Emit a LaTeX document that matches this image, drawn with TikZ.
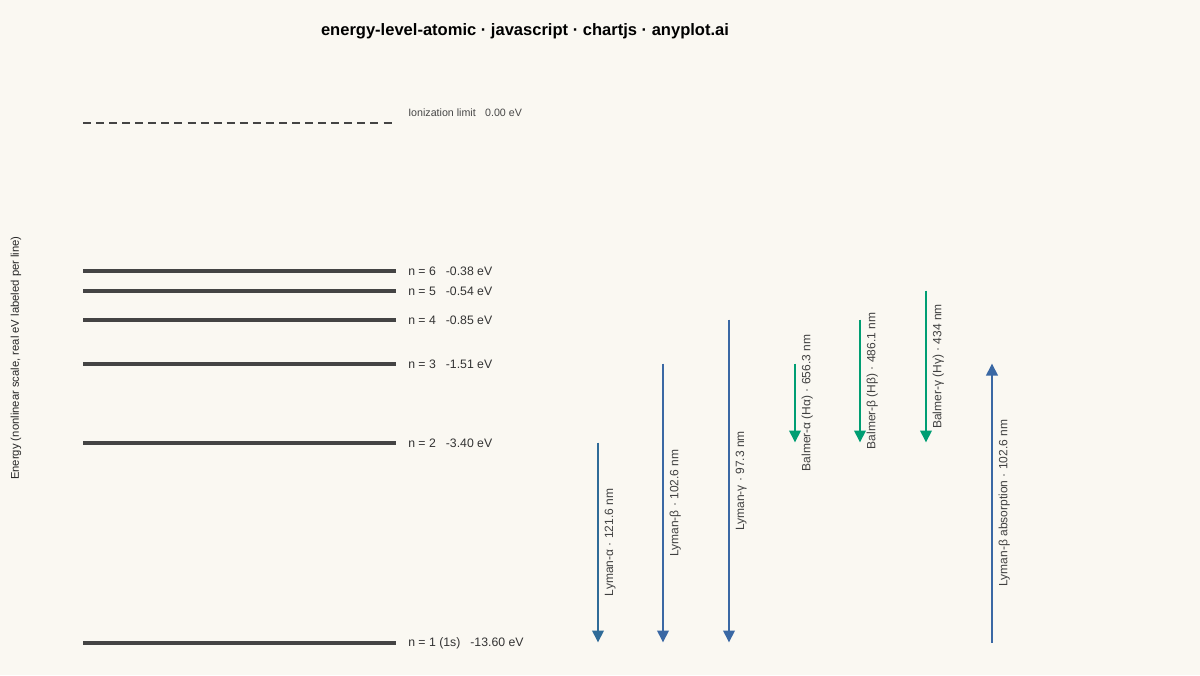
\documentclass[tikz,border=0pt]{standalone}
\usepackage{fontspec}
\setmainfont{Liberation Sans}
\usepackage{tikz}
\usetikzlibrary{arrows.meta}
\definecolor{paper}{HTML}{FAF8F2}
\definecolor{lymanblue}{HTML}{3A68A4}
\definecolor{lymanteal}{HTML}{2F6B98}
\definecolor{balmergreen}{HTML}{009E73}
\definecolor{levelgray}{HTML}{444444}

\begin{document}
\begin{tikzpicture}[x=0.75pt, y=-0.75pt,
  levelline/.style={draw=levelgray, line width=3pt},
  levellab/.style={anchor=west, inner sep=0pt, text=black!80, yshift=-0.8pt,
    font=\fontsize{9.2}{11}\selectfont},
  trans/.style={line width=2pt, -{Triangle[width=8.5pt,length=9pt]}},
  translab/.style={rotate=90, anchor=north, inner sep=4pt, text=black!75,
    font=\fontsize{9}{11}\selectfont}
  ]
  \fill[paper] (0,0) rectangle (1200,675);
  \useasboundingbox (0,0) rectangle (1200,675);

  \node (title) at (525,31) {\fontsize{12.4}{15}\selectfont\bfseries
    energy-level-atomic · javascript · chartjs · anyplot.ai};
  \node[rotate=90, font=\fontsize{8.45}{10}\selectfont, text=black!85] (axis) at (16,358)
    {Energy (nonlinear scale, real eV labeled per line)};

  % ionization limit
  \coordinate (ion) at (83,122.5);
  \draw[levelgray, line width=1.5pt, dash pattern=on 6pt off 3.8pt] (ion) -- ++(309,0);
  \node[levellab, text=black!72, font=\fontsize{8}{10}\selectfont] (ionlab) at (408,112)
    {Ionization limit\hspace{7pt}0.00 eV};

  % bound levels
  \foreach \n/\y/\lab in {1/642.5/{n = 1 (1s)\hspace{7.5pt}-13.60 eV},
      2/442.5/{n = 2\hspace{7.5pt}-3.40 eV}, 3/363.5/{n = 3\hspace{7.5pt}-1.51 eV},
      4/319.5/{n = 4\hspace{7.5pt}-0.85 eV}, 5/290.5/{n = 5\hspace{7.5pt}-0.54 eV},
      6/270.5/{n = 6\hspace{7.5pt}-0.38 eV}}{
    \coordinate (n\n) at (83,\y);
    \draw[levelline] (n\n) -- ++(313,0);
    \node[levellab] (lab\n) at (408,\y) {\lab};
  }

  % transition columns
  \foreach \c/\x in {la/598, lb/663, lg/729, ba/795, bb/860, bg/926, ab/992}
    \coordinate (\c) at (\x,0);

  % Lyman series
  \draw[trans, lymanteal] (la |- n2) -- node[translab] {Lyman-α · 121.6 nm} (la |- n1);
  \draw[trans, lymanblue] (lb |- n3) -- node[translab] {Lyman-β · 102.6 nm} (lb |- n1);
  \draw[trans, lymanblue] (lg |- n4) -- node[translab] {Lyman-γ · 97.3 nm} (lg |- n1);
  % Balmer series
  \draw[trans, balmergreen] (ba |- n3) -- node[translab] {Balmer-α (Hα) · 656.3 nm} (ba |- n2);
  \draw[trans, balmergreen] (bb |- n4) -- node[translab] {Balmer-β (Hβ) · 486.1 nm} (bb |- n2);
  \draw[trans, balmergreen] (bg |- n5) -- node[translab] {Balmer-γ (Hγ) · 434 nm} (bg |- n2);
  % absorption
  \draw[trans, lymanblue] (ab |- n1) -- node[translab] {Lyman-β absorption · 102.6 nm} (ab |- n3);
\end{tikzpicture}
\end{document}
